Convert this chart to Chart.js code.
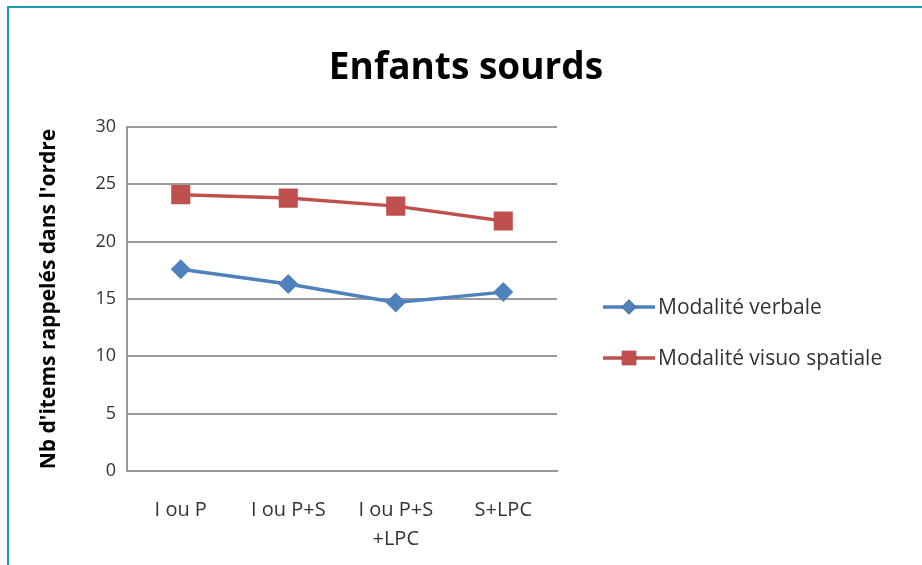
<!DOCTYPE html>
<html>
<head>
<meta charset="utf-8">
<script src="https://cdn.jsdelivr.net/npm/chart.js@4"></script>
<style>
  html, body { margin: 0; padding: 0; background: #fff; }
  #wrap { position: relative; width: 922px; height: 565px; overflow: hidden; }
  #frame { position: absolute; left: 7px; top: 6px; width: 930px; height: 580px;
           border-left: 2px solid #1a9db2; border-top: 2px solid #1a9db2; }
  canvas { position: absolute; left: 0; top: 0; }
</style>
</head>
<body>
<div id="wrap">
  <div id="frame"></div>
  <canvas id="chart" width="922" height="565"></canvas>
</div>
<script>
  // Chart values.
  const categories = [['I ou P'], ['I ou P+S'], ['I ou P+S', '+LPC'], ['S+LPC']];
  const verbale = [17.6, 16.3, 14.7, 15.6];
  const visuoSpatiale = [24.1, 23.8, 23.1, 21.8];
  const yTicks = [0, 5, 10, 15, 20, 25, 30];
  const chartTitle = 'Enfants sourds';

  const FONT = '"Open Sans", "Liberation Sans", sans-serif';

  // Title centred on the whole picture, not only on the plot.
  const titlePlugin = {
    id: 'wideTitle',
    afterDraw: function (chart) {
      const ctx = chart.ctx;
      ctx.save();
      ctx.fillStyle = '#000';
      ctx.font = 'bold 37px ' + FONT;
      ctx.textAlign = 'center';
      ctx.textBaseline = 'middle';
      ctx.fillText(chartTitle, 466, 68);
      ctx.restore();
    }
  };

  // Excel-like legend on the right: line with marker, then the label.
  const legendPlugin = {
    id: 'sideLegend',
    afterDraw: function (chart) {
      const ctx = chart.ctx;
      const rows = [307, 358];
      chart.data.datasets.forEach(function (ds, i) {
        const y = rows[i];
        ctx.save();
        ctx.strokeStyle = ds.borderColor;
        ctx.lineWidth = 3.5;
        ctx.beginPath();
        ctx.moveTo(603, y);
        ctx.lineTo(655, y);
        ctx.stroke();
        Chart.helpers.drawPoint(ctx, {
          pointStyle: ds.pointStyle,
          radius: ds.pointRadius * 0.75,
          borderWidth: 0
        }, 629, y);
        ctx.fillStyle = ds.pointBackgroundColor;
        ctx.fill();
        ctx.fillStyle = '#333';
        ctx.font = '21px ' + FONT;
        ctx.textBaseline = 'middle';
        ctx.fillText(ds.label, 658, y + 1);
        ctx.restore();
      });
    }
  };

  new Chart(document.getElementById('chart').getContext('2d'), {
    type: 'line',
    data: {
      labels: categories,
      datasets: [
        {
          label: 'Modalité verbale',
          data: verbale,
          borderColor: '#4f81bd',
          backgroundColor: '#4f81bd',
          pointBackgroundColor: '#4f81bd',
          pointBorderWidth: 0,
          pointStyle: 'rectRot',
          pointRadius: 10,
          borderWidth: 3.5,
          tension: 0
        },
        {
          label: 'Modalité visuo spatiale',
          data: visuoSpatiale,
          borderColor: '#c0504d',
          backgroundColor: '#c0504d',
          pointBackgroundColor: '#c0504d',
          pointBorderWidth: 0,
          pointStyle: 'rect',
          pointRadius: 13.5,
          borderWidth: 3.5,
          tension: 0
        }
      ]
    },
    options: {
      responsive: false,
      animation: false,
      layout: { padding: { left: 36, right: 365, top: 127, bottom: 0 } },
      plugins: {
        legend: { display: false },
        tooltip: { enabled: false },
        title: { display: false }
      },
      scales: {
        x: {
          offset: true,
          afterFit: function (scale) { scale.height = 94; },
          grid: { display: false, drawTicks: false },
          border: { display: true, color: '#999', width: 2 },
          ticks: {
            color: '#333',
            padding: 25,
            maxRotation: 0,
            font: { family: FONT, size: 20, lineHeight: 1.45 }
          }
        },
        y: {
          min: 0,
          max: 30,
          afterFit: function (scale) { scale.width = 91; },
          afterBuildTicks: function (scale) {
            scale.ticks = yTicks.map(function (v) { return { value: v }; });
          },
          grid: { color: '#9a9a9a', lineWidth: 2, drawTicks: false },
          border: { display: true, color: '#999', width: 2 },
          ticks: {
            color: '#333',
            padding: 11,
            font: { family: FONT, size: 18 }
          },
          title: {
            display: true,
            text: "Nb d'items rappelés dans l'ordre",
            color: '#000',
            font: { family: FONT, size: 21, weight: 'bold' },
            padding: { top: 0, bottom: 0 }
          }
        }
      }
    },
    plugins: [titlePlugin, legendPlugin]
  });
</script>
</body>
</html>
